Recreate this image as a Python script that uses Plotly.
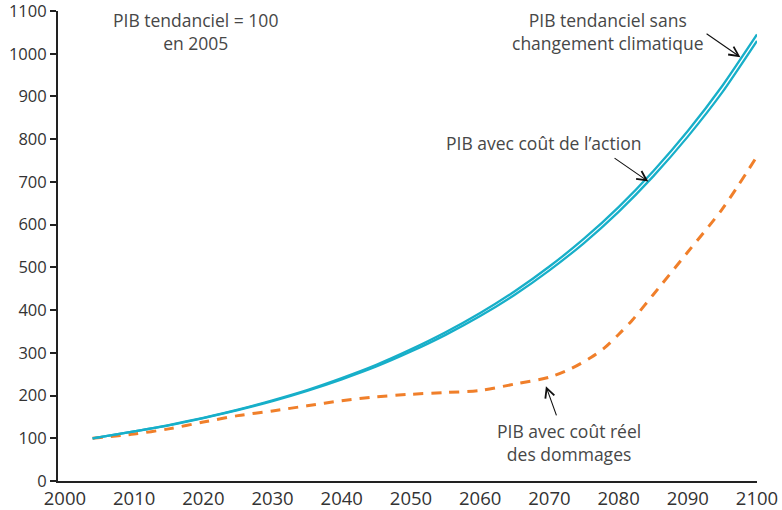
import plotly.graph_objects as go

# Years sampled along the two GDP-growth curves
years = [2004, 2010, 2015, 2020, 2025, 2030, 2035, 2040, 2045, 2050,
         2055, 2060, 2065, 2070, 2075, 2080, 2085, 2090, 2095, 2100]

# GDP index (trend = 100 in 2005)
pib_tendanciel = [100, 116, 131, 148, 167, 189, 213, 241, 272, 308,
                  348, 393, 444, 502, 567, 641, 725, 819, 925, 1045]
pib_action = [100, 116, 130, 147, 166, 187, 211, 238, 268, 303,
              342, 386, 436, 493, 557, 630, 713, 806, 910, 1030]

# GDP once the real cost of climate damages is taken into account
years_dommages = [2004, 2010, 2015, 2020, 2025, 2030, 2035, 2040, 2045, 2050,
                  2055, 2060, 2065, 2070, 2073, 2076, 2078, 2080, 2082, 2085,
                  2090, 2095, 2100]
pib_dommages = [100, 110, 122, 138, 153, 164, 176, 188, 197, 203,
                207, 212, 227, 243, 262, 289, 312, 343, 377, 436,
                536, 637, 760]

x_ticks = list(range(2000, 2101, 10))
y_ticks = list(range(0, 1101, 100))

TEAL = "#17AFC9"
ORANGE = "#F07F2A"
TEXT = "#474747"
FONT = "Open Sans"

fig = go.Figure()

fig.add_trace(go.Scatter(x=years_dommages, y=pib_dommages, mode="lines",
                         line=dict(color=ORANGE, width=3, dash="10px,8px",
                                   shape="spline", smoothing=0.8),
                         hoverinfo="skip"))
fig.add_trace(go.Scatter(x=years, y=pib_action, mode="lines",
                         line=dict(color=TEAL, width=2.3, shape="spline", smoothing=0.6),
                         hoverinfo="skip"))
fig.add_trace(go.Scatter(x=years, y=pib_tendanciel, mode="lines",
                         line=dict(color=TEAL, width=2.3, shape="spline", smoothing=0.6),
                         hoverinfo="skip"))

txt_font = dict(family=FONT, size=17.5, color=TEXT)

# Plain text notes
fig.add_annotation(x=2018.8, y=1051, text="PIB tendanciel = 100<br>en 2005",
                   showarrow=False, font=txt_font, align="center")
fig.add_annotation(x=2078.4, y=1053, text="PIB tendanciel sans<br>changement climatique",
                   showarrow=False, font=txt_font, align="center")
fig.add_annotation(x=2069.2, y=791, text="PIB avec coût de l’action",
                   showarrow=False, font=txt_font, align="center")
fig.add_annotation(x=2072.8, y=89, text="PIB avec coût réel<br>des dommages",
                   showarrow=False, font=txt_font, align="center")

# Arrows pointing at each curve
arrows = [
    (2097.6, 992, 2092.5, 1049),
    (2084.3, 701, 2079.2, 758),
    (2069.5, 222, 2071.1, 150),
]
for x_tip, y_tip, x_tail, y_tail in arrows:
    fig.add_annotation(x=x_tip, y=y_tip, ax=x_tail, ay=y_tail,
                       xref="x", yref="y", axref="x", ayref="y",
                       text="", showarrow=True, arrowhead=5, arrowsize=1.7,
                       arrowwidth=1.1, arrowcolor="#111111")

fig.update_layout(
    width=782, height=510,
    margin=dict(l=58, r=25, t=11, b=29),
    paper_bgcolor="white", plot_bgcolor="white",
    showlegend=False,
    font=dict(family=FONT, size=16, color="#333333"),
)
fig.update_xaxes(range=[1999, 2100], tickvals=x_ticks, showgrid=False, zeroline=False,
                 automargin=False, ticklabeloverflow="allow",
                 showline=True, linecolor="#222222", linewidth=2, ticks="",
                 tickfont=dict(size=18.5, color="#333333"))
fig.update_yaxes(range=[0, 1100], tickvals=y_ticks, showgrid=False, zeroline=False,
                 automargin=False, ticklabeloverflow="allow",
                 showline=True, linecolor="#222222", linewidth=2, ticks="outside",
                 ticklen=6, tickwidth=1.5, tickcolor="#222222",
                 tickfont=dict(size=16.5, color="#333333"))

fig.write_html("out.html")
